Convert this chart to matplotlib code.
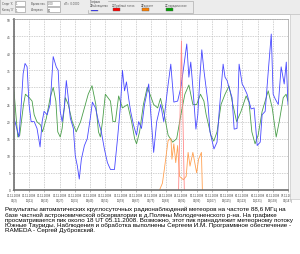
import matplotlib
matplotlib.use("Agg")
import matplotlib.pyplot as plt
from matplotlib.patches import Rectangle

W, H = 300, 255

# hours since 01.11.2008 03h, meteor counts per hour
blue_h = [0, 1, 2.6, 3.7, 4.8, 5.8, 6.9, 7.9, 9, 10.6, 12.1, 13.7, 14.8, 15.8, 17.4, 19,
          20.6, 22.2, 23.2, 24.3, 25.3, 26.4, 27.5, 28.5, 29.6, 31.2, 32.2, 33.3, 34.3, 35.4,
          37, 38.5, 40.1, 41.2, 42.8, 44.4, 45.9, 47.5, 49.1, 50.7, 52.8, 54.4, 56, 57, 58.1,
          59.1, 60.2, 61.3, 62.8, 64.4, 65.5, 67, 68.6, 70.8, 71.8, 73.4, 75, 77.1, 78.7,
          80.8, 82.4, 84, 86, 87.7, 89.2, 90.8, 91.9, 92.9, 94, 95.6, 96.6, 97.7, 98.7, 99.8,
          101.9, 103, 105.1, 106.7, 107.7, 109.9, 110.9, 112, 113, 114.6, 115.7, 117.2, 118.3,
          119.9, 120.9, 122.5, 124.6, 126.2, 127.8, 129.4, 130.4, 132, 133.6, 135.2, 136.2,
          137.3, 138.9, 140.4, 142, 143.1, 144]
blue_v = [21, 19, 15.5, 24, 34, 37, 36, 25, 20, 20, 18, 12.6, 20, 23, 22, 25,
          39, 36, 35, 23, 20, 24, 32, 27, 21, 18, 10, 7, 3.2, 9,
          13, 15, 21, 25.7, 24, 20, 17, 12, 8, 6, 6, 15, 25, 35, 29,
          31.6, 27, 23, 19, 16, 20, 18, 25, 31, 23, 11, 20, 25, 20,
          30, 36.8, 25.7, 26, 30, 36, 42.7, 33, 37.4, 30, 17.8, 22, 33, 41, 35,
          25.7, 17, 12, 14, 22, 36.8, 33, 32, 30, 27, 17.8, 18, 36.8,
          31, 30, 28, 23.7, 24, 13, 14, 22, 23, 34.5, 45.6, 28,
          26.6, 25, 36, 31, 37.4, 25]

green_h = [0, 1, 2, 3, 5, 6, 8, 9.5, 10.6, 12, 14, 15, 17, 19, 20.6, 22, 23, 24.3, 25.3,
           27, 28.5, 30.6, 32.7, 35, 37, 39, 41, 43, 44.4, 45.4, 46.5, 48, 50.7, 52, 53.3,
           55, 57, 59.7, 61.8, 63.4, 64.4, 66, 68, 70, 71.8, 73.4, 75.5, 77, 79, 81, 83.4,
           85.5, 87.7, 89.8, 91.9, 94, 96, 98, 99.8, 101, 103.5, 105, 106.7, 108.8, 110.9,
           113, 115, 117, 119.3, 122, 123.5, 125, 126.7, 128.3, 130.4, 133.6, 135.7, 137.8,
           139.4, 141.5, 143, 144]
green_v = [29, 22, 15.5, 16, 25, 28, 27, 26, 22, 20, 19, 17, 21, 27, 30, 26, 17, 15.5, 18,
           27, 25, 20, 17, 20, 24, 28, 30.5, 25, 17, 15.5, 20, 28, 26, 20, 20,
           27.5, 24, 25, 20, 15, 13.5, 17, 25, 30, 27.5, 25, 24, 26.8, 22, 16, 14,
           15, 22, 28, 30.7, 25, 25, 28, 26, 22, 16, 14.3, 17, 25, 28,
           30.4, 25, 20, 23, 27.5, 25.7, 17, 13.5, 16, 23, 29, 24, 15.5,
           20, 27, 28, 26]

orange_h = [76.5, 78, 79, 81, 82.5, 83, 84, 85, 86, 87, 89, 90.5, 91.5, 92.5, 94, 96, 97, 98.5, 99]
orange_v = [0, 2, 6, 14.5, 15, 9, 13.5, 8, 13, 4, 3, 4, 11, 7, 11, 5, 9, 11, 0]

red_h = [86.5, 88, 89.5]
red_v = [0, 43.6, 0]

y_ticks = [0, 5, 10, 15, 20, 25, 30, 35, 40, 45, 50]
x_ticks = list(range(0, 145, 8))
x_labels = ["01.11.2008\n03(3)", "01.11.2008\n11(11)", "01.11.2008\n19(19)",
            "02.11.2008\n03(27)", "02.11.2008\n11(35)", "02.11.2008\n19(43)",
            "03.11.2008\n03(51)", "03.11.2008\n11(59)", "03.11.2008\n19(67)",
            "04.11.2008\n03(75)", "04.11.2008\n11(83)", "04.11.2008\n19(91)",
            "05.11.2008\n03(99)", "05.11.2008\n11(107)", "05.11.2008\n19(115)",
            "06.11.2008\n03(123)", "06.11.2008\n11(131)", "06.11.2008\n19(139)",
            "07.11.2008\n03(147)"]

legend_names = ["Наблюдения", "Пробный поток", "Радиант", "Спорадические"]
legend_colors = ["#0000ff", "#ff0000", "#ff8000", "#00a000"]

caption = ("Результаты автоматических круглосуточных радионаблюдений метеоров на частоте 88,6 МГц на\n"
           "базе частной астрономической обсерватории в д.Поляны Молодечненского р-на. На графике\n"
           "просматривается пик около 18 UT 05.11.2008. Возможно, этот пик принадлежит метеорному потоку\n"
           "Южные Тауриды. Наблюдения и обработка выполнены Сергеем И.М. Программное обеспечение -\n"
           "RAMEDA - Сергей Дубровский.")

plt.rcParams["font.family"] = ["Liberation Sans", "DejaVu Sans"]


def fx(x):
    return x / W


def fy(y):
    return 1 - y / H


def box(fig, x0, y0, x1, y1, **kw):
    fig.add_artist(Rectangle((fx(x0), fy(y1)), (x1 - x0) / W, (y1 - y0) / H,
                             transform=fig.transFigure, **kw))


fig = plt.figure(figsize=(W / 100, H / 100), dpi=100)
fig.patch.set_facecolor("white")

# top control panel
box(fig, 0, 0, 300, 15, facecolor="#ececec", edgecolor="#b0b0b0", lw=0.5)
# right strip
box(fig, 290, 15, 300, 200, facecolor="#f0f0f0", edgecolor="#c8c8c8", lw=0.5)

small = dict(fontsize=2.0, color="#505050", va="center")
fig.text(fx(2), fy(4), "Старт 'X'", **small)
fig.text(fx(2), fy(10.5), "Конец 'X'", **small)
box(fig, 15, 1.5, 25, 6.5, facecolor="white", edgecolor="#909090", lw=0.4)
box(fig, 15, 8, 25, 13, facecolor="white", edgecolor="#909090", lw=0.4)
fig.text(fx(16), fy(4), "1", **small)
fig.text(fx(16), fy(10.5), "1", **small)
fig.text(fx(31), fy(4), "Время нач.", **small)
fig.text(fx(31), fy(10.5), "Интервал", **small)
box(fig, 47, 1.5, 60, 6.5, facecolor="white", edgecolor="#909090", lw=0.4)
box(fig, 47, 8, 60, 13, facecolor="white", edgecolor="#909090", lw=0.4)
fig.text(fx(48), fy(4), "0.00", **small)
fig.text(fx(48), fy(10.5), "60", **small)
fig.text(fx(64), fy(4), "dT=  0.0000", **small)

box(fig, 88, 2, 193, 14, facecolor="none", edgecolor="#a0a0a0", lw=0.4)
fig.text(fx(90), fy(2), "Графики", fontsize=2.0, color="#505050", va="center",
         backgroundcolor="#ececec")
legend_x = [90, 112, 141, 165]
for lx, name, col in zip(legend_x, legend_names, legend_colors):
    fig.text(fx(lx), fy(5.5), "\u2611" + name, fontsize=1.8, color="#505050", va="center",
             family=["DejaVu Sans"])
    box(fig, lx + 1, 8.5, lx + 8, 11.5, facecolor=col, edgecolor="#606060", lw=0.3)

# plot
ax = fig.add_axes([fx(14), fy(191), (288 - 14) / W, (191 - 20) / H])
ax.plot(green_h, green_v, color="#4a9e4a", lw=0.6)
ax.plot(blue_h, blue_v, color="#4848ff", lw=0.6)
ax.plot(orange_h, orange_v, color="#ffa050", lw=0.6)
ax.plot(red_h, red_v, color="#ff8888", lw=0.6)

ax.set_xlim(0, 144)
ax.set_ylim(0, 50)
ax.set_xticks(x_ticks)
ax.set_xticklabels(x_labels, fontsize=2.1, color="#404040", linespacing=1.2)
ax.set_yticks(y_ticks)
ax.set_yticklabels([str(v) for v in y_ticks], fontsize=2.3, color="#404040")
ax.tick_params(length=1.5, width=0.4, pad=1, colors="#808080", labelcolor="#404040")
ax.grid(True, color="#c0c0c0", linestyle=(0, (2, 1.5)), lw=0.5)
for side in ["top", "right"]:
    ax.spines[side].set_color("#a0a0a0")
    ax.spines[side].set_linewidth(0.5)
for side in ["left", "bottom"]:
    ax.spines[side].set_color("#707070")
    ax.spines[side].set_linewidth(1.2)

fig.text(fx(5), fy(207), caption, fontsize=4.5, color="black", va="top", linespacing=1.05)

fig.savefig("out.png", dpi=100)
